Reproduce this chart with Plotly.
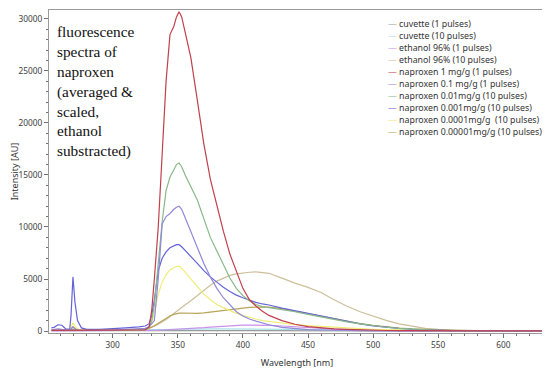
import plotly.graph_objects as go

wavelength = [253, 255, 258, 261, 264, 267, 268, 269.5, 271, 273,
              276, 280, 290, 300, 310, 320, 325, 328, 330, 332,
              335, 338, 341, 344, 347, 349, 351, 353, 356, 360,
              365, 370, 375, 380, 385, 390, 395, 400, 405, 410,
              415, 420, 430, 440, 450, 460, 470, 480, 490, 500,
              510, 520, 530, 540, 550, 560, 580, 600, 630]

cuvette_1 = [40, 40, 40, 40, 40, 40, 40, 50, 40, 40,
             40, 40, 40, 40, 40, 50, 50, 60, 60, 60,
             70, 70, 80, 80, 80, 90, 90, 90, 90, 90,
             90, 90, 90, 90, 90, 90, 90, 90, 80, 80,
             70, 70, 60, 50, 40, 40, 30, 30, 20, 20,
             15, 10, 10, 5, 5, 5, 5, 5, 5]

cuvette_10 = [60, 60, 60, 60, 60, 60, 70, 90, 70, 60,
              60, 60, 60, 60, 70, 80, 90, 100, 110, 120,
              130, 140, 150, 160, 170, 175, 180, 180, 185, 190,
              195, 200, 200, 200, 200, 200, 200, 200, 195, 190,
              185, 180, 170, 160, 150, 130, 110, 90, 70, 55,
              40, 30, 20, 15, 10, 8, 5, 5, 5]

ethanol_1 = [20, 20, 20, 20, 20, 20, 30, 40, 30, 20,
             20, 20, 20, 20, 25, 30, 35, 45, 55, 65,
             80, 95, 110, 125, 140, 150, 160, 170, 190, 220,
             270, 320, 370, 420, 460, 500, 530, 560, 570, 570,
             560, 540, 480, 400, 310, 230, 160, 110, 75, 50,
             30, 20, 12, 8, 5, 5, 5, 5, 5]

ethanol_10 = [50, 50, 50, 50, 50, 50, 80, 120, 80, 50,
              50, 50, 50, 60, 70, 100, 150, 250, 350, 450,
              650, 850, 1100, 1400, 1700, 1900, 2100, 2300, 2550, 2900,
              3400, 3900, 4400, 4800, 5100, 5350, 5500, 5600, 5650, 5680,
              5650, 5550, 5080, 4600, 4200, 3700, 3000, 2380, 1850, 1420,
              1020, 680, 440, 260, 150, 90, 30, 15, 5]

naproxen_1 = [60, 60, 50, 40, 40, 40, 60, 100, 60, 40,
              30, 30, 30, 30, 40, 60, 100, 400, 2000, 5000,
              10000, 17000, 24000, 28500, 29300, 30200, 30700, 30200, 28500, 26300,
              22200, 18000, 14600, 12000, 9600, 7400, 5700, 4100, 3000, 2400,
              1900, 1500, 1000, 650, 430, 300, 210, 150, 100, 70,
              50, 40, 30, 20, 15, 10, 5, 5, 5]

naproxen_01 = [120, 150, 200, 150, 80, 80, 150, 400, 200, 100,
               60, 50, 60, 80, 120, 180, 250, 400, 700, 1000,
               5000, 10300, 11000, 11300, 11700, 11900, 12000, 11700, 10800, 9600,
               8100, 6500, 5200, 4100, 3200, 2500, 1850, 1450, 1150, 950,
               750, 600, 350, 220, 140, 95, 65, 45, 30, 20,
               15, 10, 8, 5, 5, 5, 5, 5, 5]

naproxen_001 = [50, 50, 50, 50, 50, 50, 80, 150, 80, 50,
                50, 50, 50, 60, 80, 100, 150, 300, 1000, 2500,
                6500, 10500, 13500, 14800, 15500, 16000, 16150, 15800, 14900, 13900,
                12600, 10800, 9000, 7700, 6400, 5100, 4100, 3400, 2900, 2550,
                2350, 2250, 2100, 1850, 1600, 1350, 1100, 880, 680, 500,
                360, 250, 170, 110, 70, 45, 20, 10, 5]

naproxen_0001 = [300, 350, 600, 550, 200, 150, 1500, 5200, 2800, 1000,
                 300, 150, 150, 200, 300, 400, 480, 700, 1500, 3000,
                 5800, 7000, 7600, 8000, 8200, 8300, 8300, 8100, 7700, 7200,
                 6500, 5800, 5200, 4700, 4200, 3800, 3450, 3200, 2950, 2750,
                 2600, 2500, 2200, 1950, 1650, 1380, 1130, 900, 680, 500,
                 350, 250, 170, 110, 70, 45, 20, 10, 5]

naproxen_00001 = [80, 100, 120, 100, 60, 100, 400, 750, 500, 200,
                  80, 50, 50, 60, 80, 100, 150, 300, 800, 1800,
                  3500, 4700, 5400, 5900, 6100, 6200, 6230, 6050, 5600, 5000,
                  4200, 3550, 3000, 2550, 2250, 1950, 1700, 1500, 1300, 1150,
                  1000, 920, 750, 620, 520, 430, 350, 280, 220, 170,
                  130, 100, 75, 55, 40, 30, 15, 10, 5]

naproxen_000001 = [60, 80, 100, 80, 50, 80, 250, 400, 250, 100,
                   60, 50, 50, 60, 80, 120, 180, 250, 350, 500,
                   750, 1000, 1250, 1450, 1600, 1680, 1720, 1730, 1720, 1700,
                   1700, 1750, 1820, 1900, 2000, 2100, 2170, 2220, 2270, 2300,
                   2320, 2300, 2150, 1900, 1650, 1400, 1150, 920, 720, 550,
                   400, 290, 200, 140, 95, 65, 30, 15, 5]

series_names = [
    "cuvette (1 pulses)",
    "cuvette (10 pulses)",
    "ethanol 96% (1 pulses)",
    "ethanol 96% (10 pulses)",
    "naproxen 1 mg/g (1 pulses)",
    "naproxen 0.1 mg/g (1 pulses)",
    "naproxen 0.01mg/g (10 pulses)",
    "naproxen 0.001mg/g (10 pulses)",
    "naproxen 0.0001mg/g&nbsp;&nbsp;(10 pulses)",
    "naproxen 0.00001mg/g (10 pulses)",
]
series_values = [cuvette_1, cuvette_10, ethanol_1, ethanol_10, naproxen_1,
                 naproxen_01, naproxen_001, naproxen_0001, naproxen_00001, naproxen_000001]
series_colors = ["#9a9a9a", "#a8e0e8", "#c890e8", "#cdbf9c", "#c0404c",
                 "#9088d8", "#88b888", "#6464d8", "#f0ec78", "#b8a458"]

# drawing order (later = on top)
draw_order = [0, 1, 2, 3, 9, 8, 7, 6, 5, 4]

fig = go.Figure()
for i in draw_order:
    fig.add_trace(go.Scatter(
        x=wavelength, y=series_values[i], mode="lines",
        name=series_names[i].replace("&nbsp;", " "),
        line=dict(color=series_colors[i], width=1.2),
        showlegend=False,
    ))

# legend drawn as text rows (one per series)
plot_h = 324.0
for k, (n, c) in enumerate(zip(series_names, series_colors)):
    row_px = 13.7 + 12.1 * k          # distance of row centre below plot top
    fig.add_annotation(
        xref="paper", yref="paper", x=0.68, y=1 - row_px / plot_h,
        xanchor="left", yanchor="middle",
        text=f"<span style='color:{c}'>—</span> {n}", showarrow=False, align="left",
        font=dict(family="Noto Sans", size=8.8, color="#333333"),
    )

fig.add_annotation(
    xref="paper", yref="paper", x=0.012, y=0.967, xanchor="left", yanchor="top",
    text="fluorescence<br>spectra of<br>naproxen<br>(averaged &amp;<br>scaled,<br>ethanol<br>substracted)",
    showarrow=False, align="left",
    font=dict(family="Liberation Serif", size=15.3, color="#111111"),
)

axis_font = dict(family="Noto Sans", size=8.3, color="#404040")
fig.update_xaxes(
    range=[251.1, 632.0], showgrid=False, zeroline=False,
    showline=True, linecolor="#9a9a9a", linewidth=1, mirror=True,
    ticks="outside", ticklen=4, tickcolor="#707070", dtick=50, tick0=300,
    minor=dict(ticks="outside", ticklen=2, dtick=10, tickcolor="#707070"),
    tickfont=axis_font,
    title=dict(text="Wavelength [nm]", font=dict(family="Noto Sans", size=9, color="#333333"), standoff=10),
)
fig.update_yaxes(
    range=[-192, 30863], showgrid=False, zeroline=False,
    showline=True, linecolor="#9a9a9a", linewidth=1, mirror=True,
    ticks="outside", ticklen=4, tickcolor="#707070", dtick=5000, tick0=0,
    tickformat="d",
    minor=dict(ticks="outside", ticklen=2, dtick=1000, tickcolor="#707070"),
    tickfont=axis_font,
    title=dict(text="Intensity [AU]", font=dict(family="Noto Sans", size=9, color="#333333"), standoff=3),
)
# page has an 8px body margin, so the figure is 8px smaller than the window
fig.update_layout(
    width=542, height=362,
    margin=dict(l=38, r=5, t=1, b=37),
    paper_bgcolor="white", plot_bgcolor="white",
    showlegend=False,
)

fig.write_html("out.html")
